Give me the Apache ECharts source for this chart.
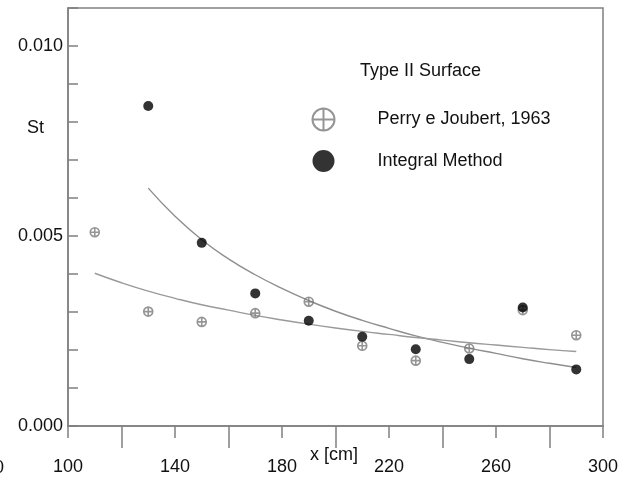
<!DOCTYPE html>
<html>
<head>
<meta charset="utf-8">
<script src="https://cdn.jsdelivr.net/npm/echarts@6/dist/echarts.min.js"></script>
<style>
  html, body { margin: 0; padding: 0; background: #fff; }
  #chart { width: 629px; height: 482px; }
</style>
</head>
<body>
<div id="chart"></div>
<script>
// Stanton number along the plate, Type II surface
const xPerry = [110, 130, 150, 170, 190, 210, 230, 250, 270, 290];
const stPerry = [0.00510, 0.00301, 0.00274, 0.00297, 0.00327, 0.00211, 0.00172, 0.00204, 0.00305, 0.00239];

const xIntegral = [130, 150, 170, 190, 210, 230, 250, 270, 290];
const stIntegral = [0.00842, 0.00482, 0.00349, 0.00277, 0.00235, 0.00202, 0.00176, 0.00312, 0.00149];

// fitted trend curves
const xFitIntegral = [130, 140, 150, 160, 170, 180, 190, 200, 210, 220, 230, 240, 250, 260, 270, 280, 290];
const stFitIntegral = [0.00626, 0.00552, 0.00490, 0.00440, 0.00398, 0.00362, 0.00330, 0.00302, 0.00278, 0.00257, 0.00237, 0.00220, 0.00205, 0.00191, 0.00177, 0.00165, 0.00154];

const xFitPerry = [110, 120, 130, 140, 150, 160, 170, 180, 190, 200, 210, 220, 230, 240, 250, 260, 270, 280, 290];
const stFitPerry = [0.00402, 0.00377, 0.00355, 0.00336, 0.00319, 0.00305, 0.00291, 0.00279, 0.00268, 0.00258, 0.00249, 0.00241, 0.00233, 0.00226, 0.00219, 0.00213, 0.00207, 0.00201, 0.00196];

// axis ticks
const xLabelTicks = [100, 140, 180, 220, 260, 300];
const xLongTicks = [120, 160, 200, 240, 280];
const yLabelTicks = [0, 0.005, 0.010];

const nameP = 'Perry e Joubert, 1963';
const nameI = 'Integral Method';

const zip = (xs, ys) => xs.map((x, i) => [x, ys[i]]);

const AX = '#808080';
const TXT = '#111';
const FONT = 'Liberation Sans, Arial, sans-serif';
const crossedCircle = 'path://M11,1A10,10,0,1,1,11,21A10,10,0,1,1,11,1ZM1,11L21,11M11,1L11,21';

const chart = echarts.init(document.getElementById('chart'), null, { renderer: 'canvas' });

chart.setOption({
  animation: false,
  backgroundColor: '#fff',
  textStyle: { fontFamily: FONT },
  grid: {
    left: 68, right: 26, top: 8, bottom: 56,
    show: true, borderColor: AX, borderWidth: 1.5, backgroundColor: 'transparent'
  },
  xAxis: [
    {
      type: 'value', min: 100, max: 300, position: 'bottom',
      axisLine: { lineStyle: { color: AX, width: 1.5 } },
      axisTick: { show: true, customValues: xLabelTicks, length: 12, lineStyle: { color: AX, width: 1.5 } },
      axisLabel: { customValues: xLabelTicks, margin: 32, color: TXT, fontSize: 18, fontFamily: FONT },
      splitLine: { show: false }
    },
    {
      type: 'value', min: 100, max: 300, position: 'bottom',
      axisLine: { show: false },
      axisTick: { show: true, customValues: xLongTicks, length: 22, lineStyle: { color: AX, width: 1.5 } },
      axisLabel: { show: false },
      splitLine: { show: false }
    }
  ],
  yAxis: {
    type: 'value', min: 0, max: 0.011, interval: 0.001,
    axisLine: { show: true, lineStyle: { color: AX, width: 1.5 } },
    axisTick: { show: true, inside: true, length: 10, lineStyle: { color: AX, width: 1.5 } },
    axisLabel: {
      customValues: yLabelTicks, margin: 5, color: TXT, fontSize: 18, fontFamily: FONT,
      formatter: v => v.toFixed(3)
    },
    splitLine: { show: false }
  },
  legend: {
    orient: 'vertical', left: 310, top: 106, padding: 0,
    itemWidth: 22, itemHeight: 22, itemGap: 17,
    data: [nameP, nameI],
    textStyle: { color: TXT, fontSize: 18, fontFamily: FONT, padding: [0, 0, 0, 38] }
  },
  graphic: [
    { type: 'text', left: 360, top: 62, style: { text: 'Type II Surface', fill: TXT, font: '18px ' + FONT } },
    { type: 'text', left: 27, top: 119, style: { text: 'St', fill: TXT, font: '18px ' + FONT } },
    { type: 'text', left: 310, top: 446, style: { text: 'x [cm]', fill: TXT, font: '18px ' + FONT } },
    { type: 'text', left: -6, top: 459, style: { text: '0', fill: TXT, font: '18px ' + FONT } }
  ],
  series: [
    {
      name: 'fitIntegral', type: 'line', data: zip(xFitIntegral, stFitIntegral),
      smooth: true, symbol: 'none', lineStyle: { color: '#8e8e8e', width: 1.4 }, z: 1
    },
    {
      name: 'fitPerry', type: 'line', data: zip(xFitPerry, stFitPerry),
      smooth: true, symbol: 'none', lineStyle: { color: '#9a9a9a', width: 1.4 }, z: 1
    },
    {
      name: nameP, type: 'scatter', data: zip(xPerry, stPerry),
      symbol: crossedCircle, symbolSize: 9,
      itemStyle: { color: 'none', borderColor: '#7a7a7a', borderWidth: 1.6 }, z: 3
    },
    {
      name: nameI, type: 'scatter', data: zip(xIntegral, stIntegral),
      symbol: 'circle', symbolSize: 10,
      itemStyle: { color: '#000' }, z: 4
    }
  ]
});
</script>
</body>
</html>
